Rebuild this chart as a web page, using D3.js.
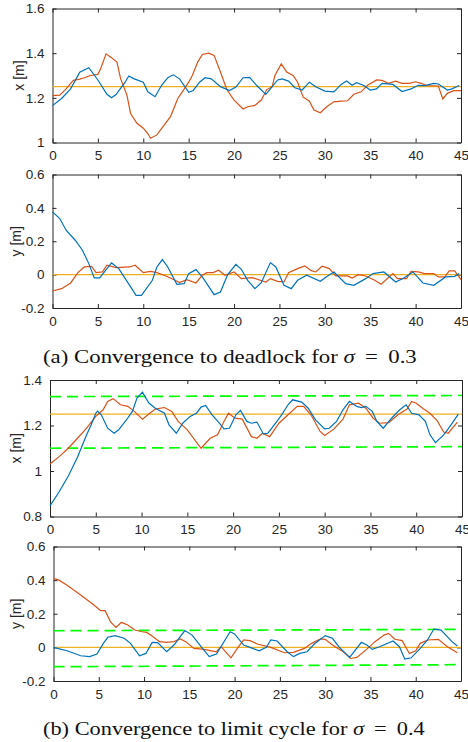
<!DOCTYPE html>
<html>
<head>
<meta charset="utf-8">
<script src="https://d3js.org/d3.v7.min.js"></script>
<style>
  body { margin: 0; background: #fff; }
  .tick text { font-family: "Liberation Sans", Arial, sans-serif; font-size: 13.5px; fill: #262626; }
  .caption { font-family: "Liberation Serif", "Times New Roman", serif; font-size: 19.5px; fill: #111; }
  .ylab { font-family: "Liberation Sans", Arial, sans-serif; font-size: 14px; fill: #262626; }
</style>
</head>
<body>
<script>
// ---- data: [time, value] ----
var xTicks = [0, 5, 10, 15, 20, 25, 30, 35, 40, 45];

// (a) deadlock, sigma = 0.3 — x
var aXBlue = [[0,1.165],[1,1.197],[2,1.24],[3,1.315],[4,1.335],[5,1.28],[6,1.216],[6.5,1.2],[7,1.215],[8,1.27],[8.4,1.298],[9,1.285],[10,1.27],[10.5,1.227],[11.3,1.205],[12,1.255],[12.7,1.29],[13.3,1.303],[14,1.285],[15,1.225],[15.5,1.233],[16.2,1.27],[16.8,1.29],[17.5,1.285],[18.5,1.25],[19.5,1.233],[20.2,1.248],[21,1.29],[21.7,1.292],[22.5,1.255],[23.5,1.215],[24,1.24],[24.8,1.28],[25.3,1.285],[26,1.275],[26.7,1.245],[27.5,1.235],[28.3,1.27],[29,1.25],[30,1.23],[31,1.227],[31.8,1.26],[32.4,1.275],[33,1.256],[33.5,1.268],[34.3,1.255],[35,1.235],[35.7,1.24],[36.3,1.265],[37.5,1.26],[38.5,1.228],[39.5,1.24],[40.3,1.256],[41,1.255],[42,1.265],[42.5,1.262],[43.5,1.235],[44,1.24],[44.8,1.255]];
var aXOrange = [[0,1.21],[0.8,1.212],[1.5,1.24],[2.3,1.278],[3,1.284],[3.5,1.29],[4.2,1.3],[5,1.305],[5.3,1.33],[5.9,1.397],[6.5,1.38],[7.1,1.36],[7.5,1.286],[8.2,1.212],[8.6,1.13],[9.3,1.086],[10,1.064],[10.5,1.04],[10.8,1.019],[11.5,1.034],[12.3,1.078],[13,1.116],[13.8,1.197],[14.3,1.227],[15,1.27],[15.4,1.3],[16,1.36],[16.5,1.394],[17.2,1.4],[17.8,1.39],[18.5,1.316],[19.2,1.237],[20,1.19],[21,1.15],[21.5,1.16],[22.3,1.166],[23,1.19],[23.6,1.237],[24.2,1.25],[24.5,1.3],[25.2,1.352],[25.8,1.316],[26.5,1.3],[27,1.27],[27.6,1.204],[28.3,1.185],[28.8,1.145],[29.5,1.133],[30.2,1.16],[31,1.182],[31.8,1.185],[32.5,1.187],[33.2,1.216],[34,1.227],[34.7,1.256],[35.7,1.28],[36.3,1.278],[37,1.265],[37.8,1.275],[38.5,1.265],[39.3,1.265],[40,1.272],[40.6,1.265],[41.2,1.255],[42.5,1.253],[43,1.195],[43.5,1.22],[44.2,1.232],[45,1.232]];
var aXRef = [[0,1.25],[45,1.25]];

// (a) — y
var aYBlue = [[0,0.376],[0.8,0.336],[1.5,0.266],[2.5,0.206],[3.3,0.146],[4,0.066],[4.6,-0.02],[5.2,-0.02],[6,0.036],[6.5,0.07],[7.3,0.036],[8.5,-0.064],[9.2,-0.124],[9.8,-0.124],[11,-0.034],[11.5,0.046],[12.1,0.09],[12.7,0.046],[13.7,-0.058],[14.5,-0.054],[15,0.006],[15.8,0.03],[16.5,-0.014],[17,-0.054],[17.8,-0.12],[18.5,-0.104],[19.3,0],[20.2,0.062],[20.8,0.032],[21.5,-0.034],[22.3,-0.084],[23,-0.048],[24,0.072],[24.6,0.046],[25.5,-0.064],[26.3,-0.084],[27,-0.034],[28,-0.004],[29.5,-0.04],[30.3,-0.008],[31,0.016],[32.3,-0.054],[33.2,-0.064],[34.5,-0.024],[35.3,0.006],[36.5,0.016],[37.8,-0.044],[38.7,-0.02],[39.7,0.016],[40.8,-0.05],[42,-0.064],[43.3,-0.014],[44.3,-0.01],[44.8,0.006]];
var aYOrange = [[0,-0.098],[1,-0.084],[2,-0.05],[2.8,0.012],[3.5,0.046],[4.3,0.05],[4.8,0.012],[5.5,0.016],[6,0.056],[7,0.042],[8.5,0.046],[9.1,0.056],[10,0.012],[10.8,0.02],[11.5,0.012],[12.5,-0.008],[13.5,-0.034],[14,-0.048],[14.8,-0.03],[15.8,-0.05],[16.5,-0.004],[17,0.012],[17.7,0.012],[18.3,0.026],[19,-0.004],[20,0.016],[20.8,-0.024],[22,-0.018],[23.5,-0.044],[24,-0.024],[24.8,-0.04],[25.5,-0.044],[26,0.012],[27,0.036],[27.8,0.052],[28.5,0.024],[29,0.016],[29.7,0.05],[30.5,0.036],[31.2,-0.008],[32.5,-0.008],[33,-0.02],[33.7,0],[34.5,-0.008],[35.5,-0.034],[36.2,-0.058],[37.5,0.006],[38,-0.024],[39,-0.024],[39.5,0.02],[40.3,0.016],[41,0.006],[42,0.006],[42.5,-0.014],[43.2,-0.014],[43.7,0.022],[44.3,0.022],[45,-0.03]];
var aYRef = [[0,0],[45,0]];

// (b) limit cycle, sigma = 0.4 — x
var bXBlue = [[0,0.847],[1,0.909],[2,0.978],[3,1.06],[4,1.159],[4.5,1.203],[5,1.254],[5.2,1.263],[5.6,1.247],[6.3,1.188],[7,1.166],[7.5,1.181],[8.3,1.222],[9,1.262],[9.5,1.321],[10.1,1.346],[10.8,1.299],[11.5,1.276],[12.5,1.254],[13,1.203],[13.8,1.166],[14.5,1.21],[15.3,1.24],[16,1.254],[16.5,1.281],[17,1.288],[17.7,1.247],[18.5,1.21],[19,1.185],[19.6,1.188],[20.3,1.247],[20.8,1.266],[21.5,1.218],[22,1.21],[22.6,1.215],[23.3,1.163],[23.8,1.166],[24.5,1.203],[25.3,1.247],[26,1.291],[26.5,1.313],[27.5,1.303],[28.2,1.276],[29,1.225],[30,1.185],[30.5,1.188],[31.3,1.218],[32,1.269],[32.7,1.306],[33.5,1.284],[34,1.279],[34.5,1.284],[35.2,1.262],[35.7,1.218],[36.4,1.188],[37.3,1.232],[38.2,1.269],[38.9,1.291],[39.5,1.254],[40.3,1.247],[41,1.218],[41.5,1.159],[42.1,1.125],[43,1.159],[43.8,1.203],[44.6,1.25]];
var bXOrange = [[0,1.031],[1,1.063],[2,1.1],[3,1.144],[4,1.188],[5,1.24],[5.8,1.269],[6.3,1.306],[6.9,1.318],[7.7,1.291],[8.5,1.284],[9.2,1.262],[10.1,1.228],[10.9,1.254],[11.5,1.272],[12.5,1.279],[13.3,1.262],[14,1.218],[15,1.181],[16.5,1.1],[17.5,1.144],[18.3,1.159],[19,1.218],[19.5,1.254],[20.2,1.232],[21,1.228],[22,1.151],[22.6,1.144],[23.2,1.166],[24,1.151],[25,1.21],[26,1.247],[27,1.284],[27.7,1.284],[28.5,1.247],[29.5,1.174],[30,1.156],[31,1.184],[32,1.228],[32.7,1.291],[33.7,1.298],[34.5,1.276],[35.3,1.232],[36,1.21],[37,1.213],[38,1.247],[39,1.272],[39.5,1.306],[40,1.298],[40.7,1.276],[41.5,1.254],[42.3,1.22],[43,1.171],[43.5,1.166],[44.5,1.215]];
var bXRef = [[0,1.25],[45,1.25]];
var bXUpper = [[0,1.327],[45,1.332]];
var bXLower = [[0,1.1],[45,1.107]];

// (b) — y
var bYBlue = [[0,0],[1.5,-0.02],[3,-0.05],[4,-0.055],[4.8,-0.04],[5.5,0.024],[6,0.06],[6.8,0.07],[7.8,0.054],[8.5,0.024],[9.5,-0.05],[10.2,-0.036],[10.9,0.03],[11.5,0.028],[12.5,-0.026],[13.3,0.014],[14.5,0.1],[15.3,0.073],[16.3,0.004],[17.2,-0.055],[18,-0.04],[19.5,0.093],[20,0.08],[21,0.014],[22,-0.006],[22.7,-0.02],[23.5,0],[24,0.044],[24.7,0.038],[25.8,-0.026],[26.5,-0.055],[27.2,-0.036],[28,-0.026],[28.8,0.02],[30,0.07],[30.8,0.054],[31.5,0.004],[32.7,-0.06],[33.2,-0.026],[34,0.03],[34.6,0.014],[35.2,-0.012],[36,0.004],[37.5,0.038],[38.2,0.004],[38.8,-0.07],[39.5,-0.062],[40.5,-0.006],[41.3,0.044],[42,0.109],[42.8,0.103],[44,0.034],[44.6,0.008]];
var bYOrange = [[0,0.41],[0.6,0.4],[1.5,0.37],[3,0.311],[4.5,0.251],[5.2,0.218],[5.7,0.218],[6.3,0.152],[6.9,0.119],[7.5,0.149],[8.2,0.133],[9,0.103],[9.8,0.093],[10.3,0.089],[11,0.063],[11.7,0.034],[12.5,0.03],[13.3,0.034],[14,0.05],[14.6,0.034],[15.5,-0.006],[16.5,-0.01],[18,-0.026],[18.5,0.004],[19.6,-0.062],[20.3,-0.006],[21,0.044],[21.7,0.04],[22.5,0.02],[24,0],[25.5,-0.032],[26.5,-0.03],[27.7,-0.006],[28.5,0.024],[29.5,0.05],[30,0.048],[30.8,0.014],[32,-0.026],[32.8,-0.066],[33.5,-0.06],[34.7,-0.006],[35.5,0.034],[36.5,0.073],[37,0.083],[37.7,0.048],[38.5,0.04],[39.3,-0.036],[40,-0.02],[40.5,0.024],[41.3,0.044],[42.5,0.048],[43.5,0.004],[44.6,-0.032]];
var bYRef = [[0,0],[45,0]];
var bYUpper = [[0,0.099],[45,0.107]];
var bYLower = [[0,-0.115],[45,-0.103]];

var xTicksA = [1, 1.2, 1.4, 1.6];
var yTicks = [-0.2, 0, 0.2, 0.4, 0.6];
var xTicksB = [0.8, 1, 1.2, 1.4];

var BLUE = "#0072BD", ORANGE = "#D95319", YELLOW = "#EDB120", GREEN = "#00FF00";

var svg = d3.select("body").append("svg")
  .attr("width", 468).attr("height", 742);

function panel(p) {
  var x = d3.scaleLinear().domain([0, 45]).range([p.left, p.right]);
  var y = d3.scaleLinear().domain(p.domain).range([p.bottom, p.top]);
  var fmt = d => String(+d.toFixed(1));
  var g = svg.append("g");
  var axisColor = "#262626";

  // box with ticks inward on all sides
  g.append("g").attr("transform", "translate(0," + p.bottom + ")")
    .call(d3.axisBottom(x).tickValues(xTicks).tickSizeInner(-4).tickSizeOuter(0).tickPadding(8).tickFormat(fmt));
  g.append("g").attr("transform", "translate(0," + p.top + ")")
    .call(d3.axisTop(x).tickValues(xTicks).tickSizeInner(-4).tickSizeOuter(0).tickFormat(""));
  g.append("g").attr("transform", "translate(" + p.left + ",0)")
    .call(d3.axisLeft(y).tickValues(p.yTicks).tickSizeInner(-4).tickSizeOuter(0).tickPadding(8).tickFormat(fmt));
  g.append("g").attr("transform", "translate(" + p.right + ",0)")
    .call(d3.axisRight(y).tickValues(p.yTicks).tickSizeInner(-4).tickSizeOuter(0).tickFormat(""));
  g.selectAll(".domain, .tick line").attr("stroke", axisColor).attr("stroke-width", 1);

  g.append("text").attr("class", "ylab")
    .attr("transform", "translate(" + p.labelX + "," + ((p.top + p.bottom) / 2) + ") rotate(-90)")
    .attr("text-anchor", "middle").text(p.label);

  var line = d3.line().x(d => x(d[0])).y(d => y(d[1]));
  var plot = g.append("g");
  (p.dashed || []).forEach(function (s) {
    plot.append("path").attr("d", line(s)).attr("fill", "none")
      .attr("stroke", GREEN).attr("stroke-width", 1.7).attr("stroke-dasharray", "11,6");
  });
  plot.append("path").attr("d", line(p.ref)).attr("fill", "none").attr("stroke", YELLOW).attr("stroke-width", 1.2);
  plot.append("path").attr("d", line(p.orange)).attr("fill", "none").attr("stroke", ORANGE).attr("stroke-width", 1.2);
  plot.append("path").attr("d", line(p.blue)).attr("fill", "none").attr("stroke", BLUE).attr("stroke-width", 1.2);
}

panel({ left: 52.5, right: 461, top: 8.5, bottom: 142.5, domain: [1, 1.6], yTicks: xTicksA,
  label: "x [m]", labelX: 24, blue: aXBlue, orange: aXOrange, ref: aXRef });
panel({ left: 52.5, right: 461, top: 174.5, bottom: 308, domain: [-0.2, 0.6], yTicks: yTicks,
  label: "y [m]", labelX: 21, blue: aYBlue, orange: aYOrange, ref: aYRef });
panel({ left: 50, right: 462, top: 380, bottom: 516.5, domain: [0.8, 1.4], yTicks: xTicksB,
  label: "x [m]", labelX: 21, blue: bXBlue, orange: bXOrange, ref: bXRef, dashed: [bXUpper, bXLower] });
panel({ left: 53.5, right: 461, top: 546.5, bottom: 681, domain: [-0.2, 0.6], yTicks: yTicks,
  label: "y [m]", labelX: 21, blue: bYBlue, orange: bYOrange, ref: bYRef, dashed: [bYUpper, bYLower] });

// captions, stretched to the width they take in the picture
function caption(x0, x1, cy, pre, post) {
  var g = svg.append("g");
  var t = g.append("text").attr("class", "caption").attr("x", 0).attr("y", 0);
  t.append("tspan").text(pre);
  t.append("tspan").attr("font-style", "italic").text("σ");
  t.append("tspan").text(post);
  var w = t.node().getComputedTextLength();
  g.attr("transform", "translate(" + x0 + "," + cy + ") scale(" + ((x1 - x0) / w) + ",1)");
}
caption(43, 417, 363, "(a) Convergence to deadlock for ", " \u2009=\u2009 0.3");
caption(43, 425, 735, "(b) Convergence to limit cycle for ", " \u2009=\u2009 0.4");
</script>
</body>
</html>
